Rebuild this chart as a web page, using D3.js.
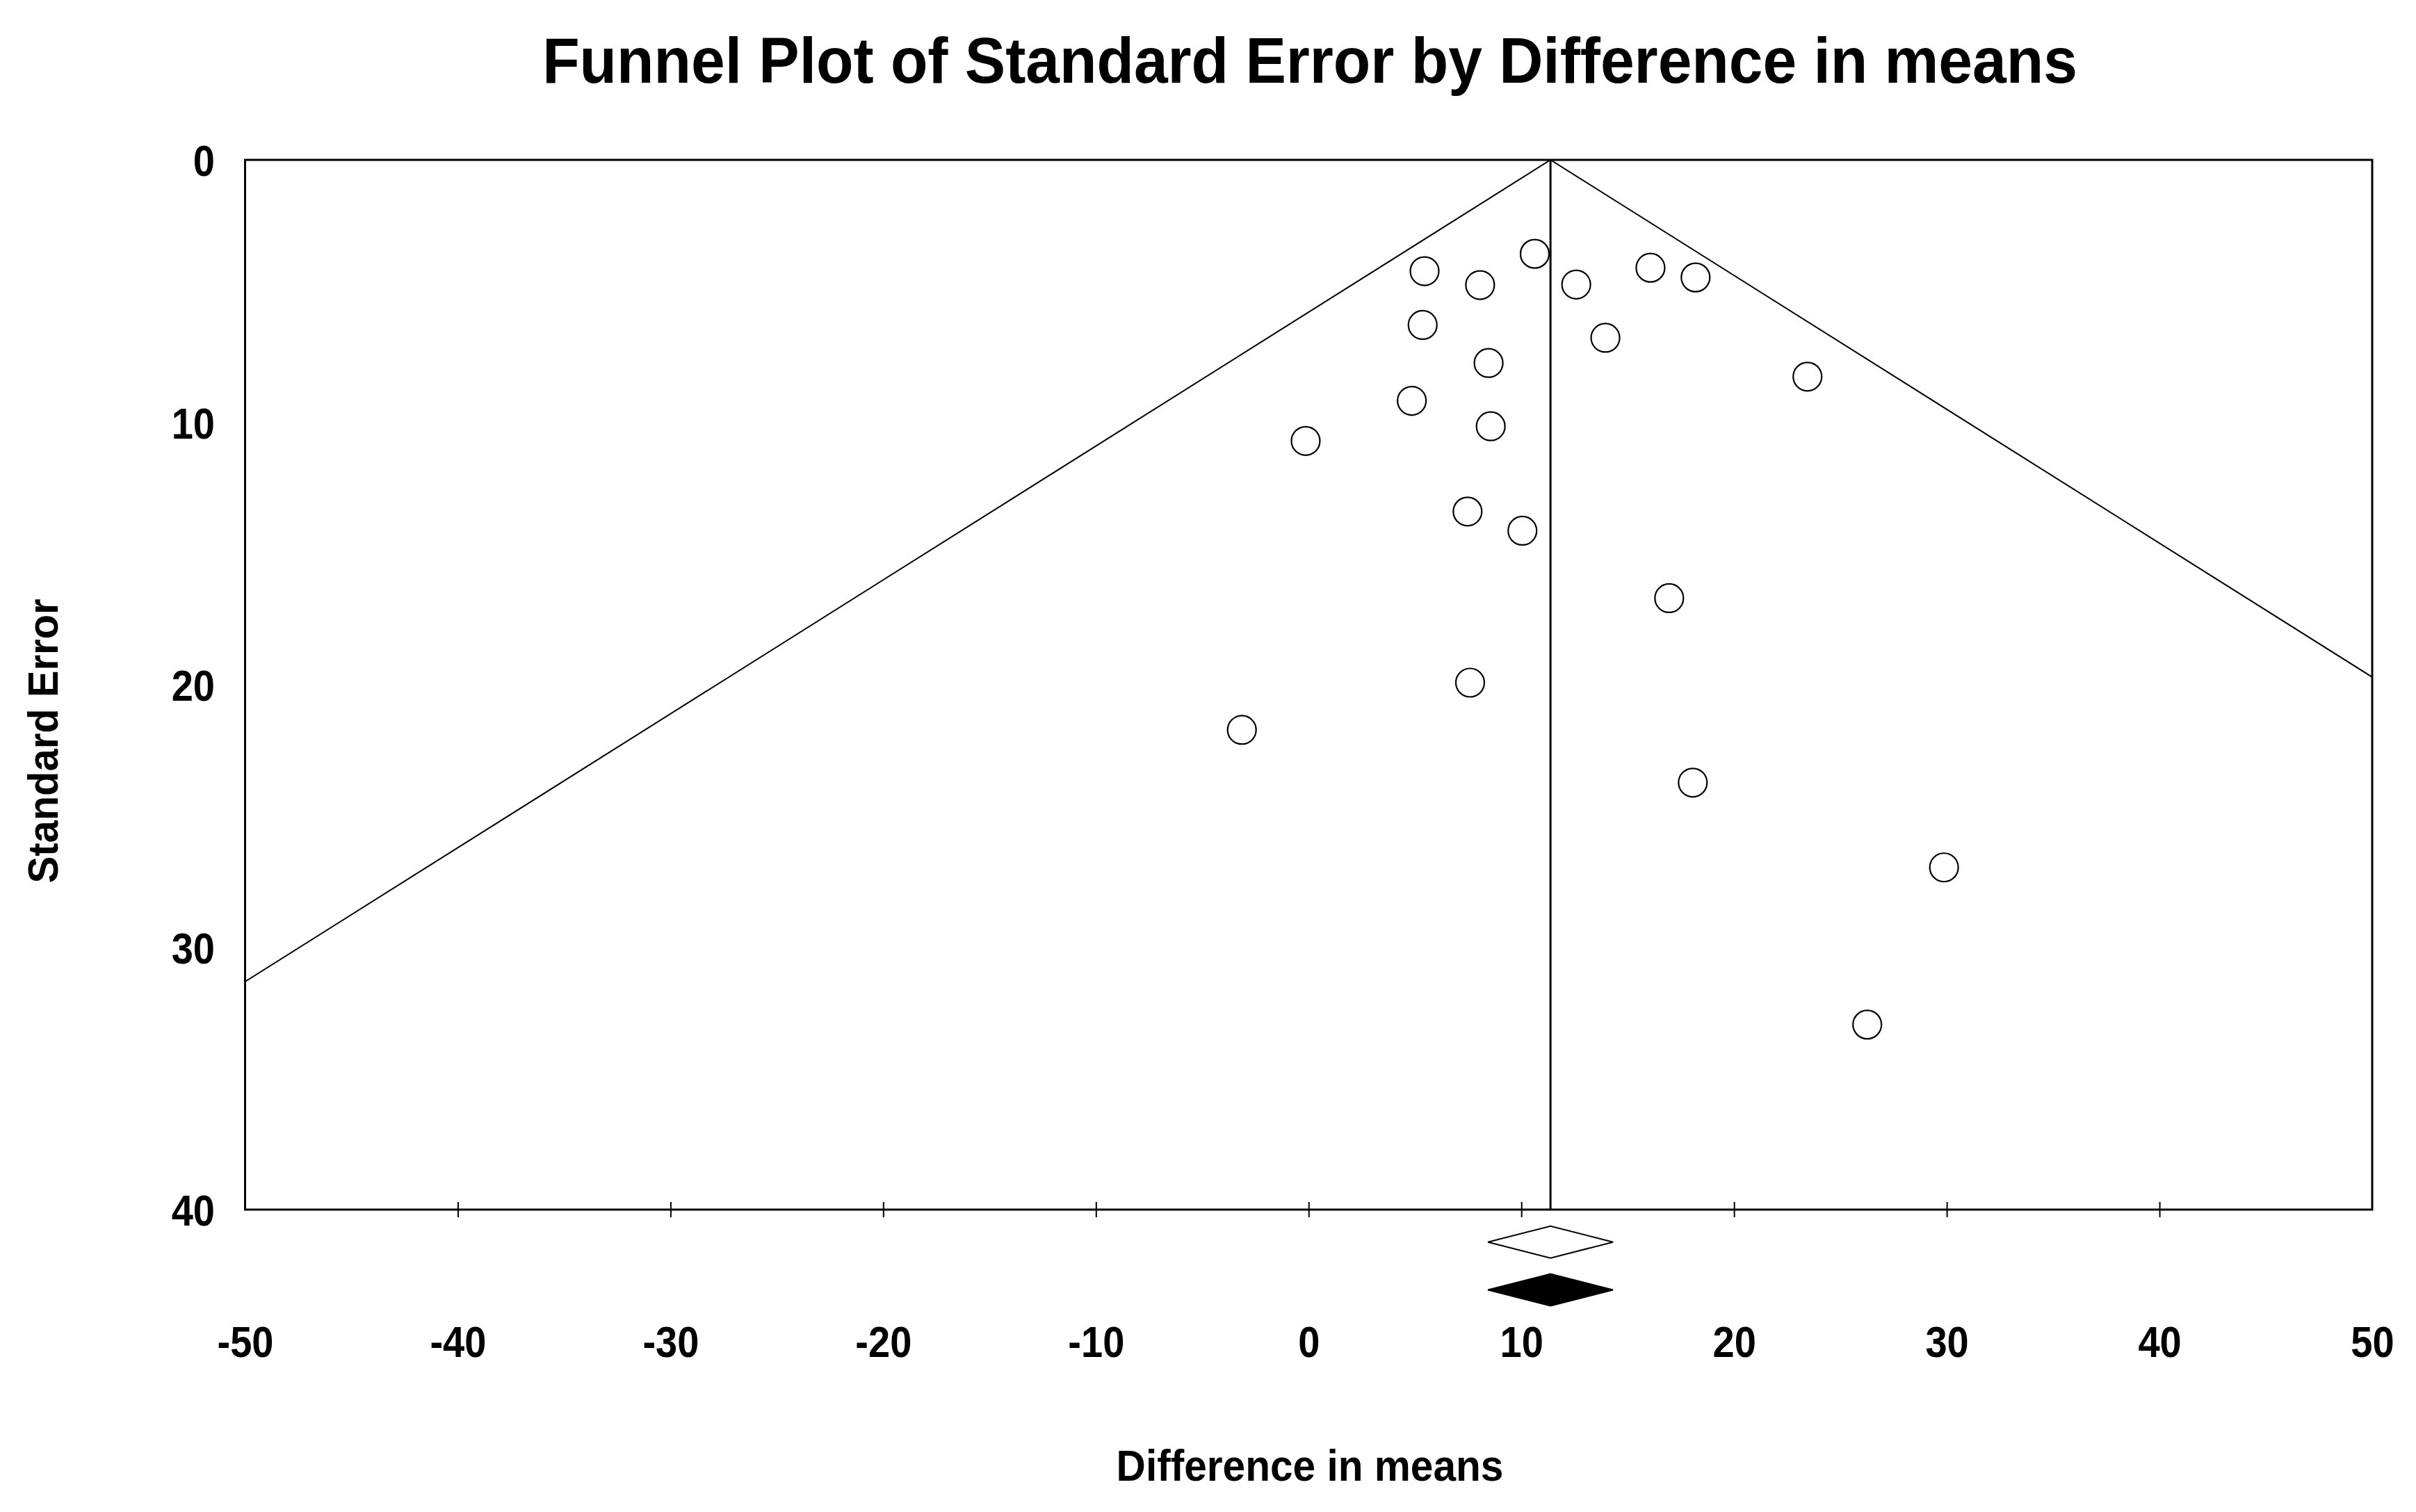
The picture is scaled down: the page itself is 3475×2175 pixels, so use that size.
<!DOCTYPE html>
<html>
<head>
<meta charset="utf-8">
<script src="https://cdn.jsdelivr.net/npm/d3@7"></script>
<style>
html,body{margin:0;padding:0;background:#fff;}
svg{display:block;}
text{font-family:"Liberation Sans",Arial,sans-serif;font-weight:bold;fill:#000;}
</style>
</head>
<body>
<svg id="chart" width="3475" height="2175"></svg>
<script>
// ---- data ----
const studyNames = ["S1","S2","S3","S4","S5","S6","S7","S8","S9","S10","S11","S12","S13","S14","S15","S16","S17","S18","S19","S20","S21"];
const diffMeans  = [10.63, 5.45, 8.06, 12.58, 16.07, 18.19, 5.36, 13.95, 8.46, 23.45, 4.85, 8.56, -0.14, 7.47, 10.05, 16.95, 7.59, -3.14, 18.06, 29.87, 26.26];
const stdErrors  = [3.58, 4.24, 4.77, 4.75, 4.11, 4.48, 6.29, 6.78, 7.74, 8.26, 9.18, 10.15, 10.71, 13.40, 14.13, 16.70, 19.92, 21.72, 23.73, 26.96, 32.95];
const pooledEstimate = 11.37;
const summaryLabels = ["Observed", "Imputed"];
const summaryLower  = [8.43, 8.43];
const summaryUpper  = [14.31, 14.31];
const xTickValues = [-50, -40, -30, -20, -10, 0, 10, 20, 30, 40, 50];
const yTickValues = [0, 10, 20, 30, 40];
const titleText = "Funnel Plot of Standard Error by Difference in means";
const xLabelText = "Difference in means";
const yLabelText = "Standard Error";

// ---- layout ----
const svg = d3.select("#chart");
const L = 352.5, R = 3412, T = 230, B = 1740;
const x = d3.scaleLinear().domain([-50, 50]).range([L, R]);
const y = d3.scaleLinear().domain([0, 40]).range([T, B]);
const fmt = d => String(d);

function condense(sel, f) {
  sel.each(function () {
    const len = this.getComputedTextLength();
    d3.select(this).attr("textLength", len * f).attr("lengthAdjust", "spacingAndGlyphs");
  });
}

// clip
svg.append("defs").append("clipPath").attr("id", "plotclip")
  .append("rect").attr("x", L).attr("y", T).attr("width", R - L).attr("height", B - T);

// funnel lines
const seGrid = [0, 40];
const funnel = svg.append("g").attr("clip-path", "url(#plotclip)");
const line = d3.line().x(d => x(d[0])).y(d => y(d[1]));
funnel.append("path")
  .attr("d", line(seGrid.map(s => [pooledEstimate - 1.96 * s, s])))
  .attr("fill", "none").attr("stroke", "#000").attr("stroke-width", 2);
funnel.append("path")
  .attr("d", line(seGrid.map(s => [pooledEstimate + 1.96 * s, s])))
  .attr("fill", "none").attr("stroke", "#000").attr("stroke-width", 2);
// mean line
svg.append("line")
  .attr("x1", x(pooledEstimate)).attr("x2", x(pooledEstimate))
  .attr("y1", y(0)).attr("y2", y(40))
  .attr("stroke", "#000").attr("stroke-width", 3);

// points
svg.append("g").selectAll("circle")
  .data(diffMeans.map((d, i) => ({ name: studyNames[i], x: d, se: stdErrors[i] })))
  .join("circle")
  .attr("cx", d => x(d.x)).attr("cy", d => y(d.se)).attr("r", 20.5)
  .attr("fill", "#fff").attr("stroke", "#000").attr("stroke-width", 2.2);

// border
svg.append("rect").attr("x", L).attr("y", T).attr("width", R - L).attr("height", B - T)
  .attr("fill", "none").attr("stroke", "#000").attr("stroke-width", 3);

// x axis
const xAxis = d3.axisBottom(x).tickValues(xTickValues).tickSize(22).tickPadding(0).tickFormat(fmt);
const gx = svg.append("g").attr("transform", `translate(0,${B})`).call(xAxis);
gx.select(".domain").remove();
gx.selectAll(".tick line").attr("y1", -11).attr("y2", 11).attr("stroke", "#000").attr("stroke-width", 2)
  .filter(d => d === -50 || d === 50).remove();
gx.selectAll(".tick text").attr("y", 1952 - B).attr("dy", 0)
  .attr("font-size", 63).attr("font-family", null).attr("fill", "#000")
  .call(condense, 0.89);

// y axis
const yAxis = d3.axisLeft(y).tickValues(yTickValues).tickSize(0).tickPadding(0).tickFormat(fmt);
const gy = svg.append("g").attr("transform", `translate(309,0)`).call(yAxis);
gy.select(".domain").remove();
gy.selectAll(".tick line").remove();
gy.selectAll(".tick text").attr("x", 0).attr("dy", "0.36em")
  .attr("font-size", 63).attr("font-family", null).attr("fill", "#000")
  .call(condense, 0.89);

// summary diamonds
const diamondY = [1786.7, 1855.5];
const dh = 23;
summaryLabels.forEach((lab, i) => {
  const cx = x(pooledEstimate), lo = x(summaryLower[i]), hi = x(summaryUpper[i]), cy = diamondY[i];
  svg.append("path")
    .attr("d", `M${lo},${cy}L${cx},${cy - dh}L${hi},${cy}L${cx},${cy + dh}Z`)
    .attr("fill", i === 0 ? "#fff" : "#000")
    .attr("stroke", "#000").attr("stroke-width", 2)
    .append("title").text(lab);
});

// titles
svg.append("text").attr("x", 1884).attr("y", 119).attr("text-anchor", "middle")
  .attr("font-size", 93).text(titleText).call(condense, 0.941);
svg.append("text").attr("x", 1884).attr("y", 2130).attr("text-anchor", "middle")
  .attr("font-size", 63).text(xLabelText).call(condense, 0.93);
svg.append("text").attr("transform", "translate(83,1066) rotate(-90)").attr("text-anchor", "middle")
  .attr("font-size", 61).text(yLabelText).call(condense, 0.95);
</script>
</body>
</html>
